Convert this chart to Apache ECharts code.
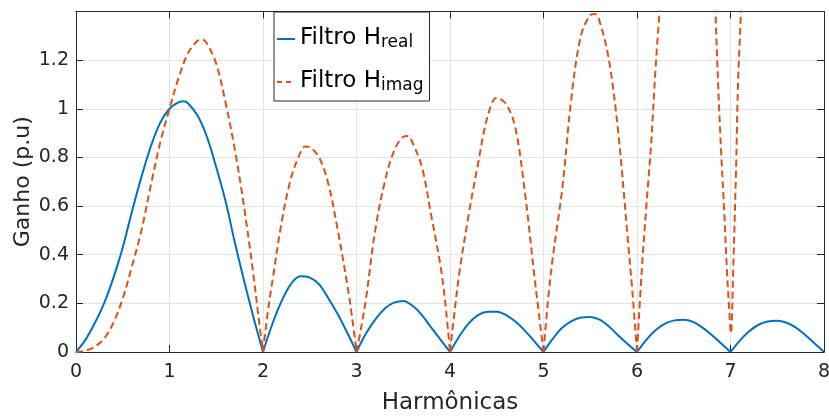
<!DOCTYPE html>
<html>
<head>
<meta charset="utf-8">
<script src="https://cdn.jsdelivr.net/npm/echarts@6/dist/echarts.min.js"></script>
<style>html,body{margin:0;padding:0;background:#fff}#c{width:829px;height:417px}</style>
</head>
<body>
<div id="c"></div>
<script>
// Harmonic order (x) and gain values
const realX = [0,0.1,0.2,0.3,0.4,0.5,0.6,0.7,0.8,0.9,1.0,1.1,1.15,1.2,1.3,1.4,1.5,1.6,1.7,1.8,1.9,2.0,
  2.1,2.2,2.3,2.4,2.5,2.6,2.7,2.8,2.9,3.0,3.1,3.2,3.3,3.4,3.5,3.6,3.7,3.8,3.9,4.0,
  4.1,4.2,4.3,4.4,4.5,4.6,4.7,4.8,4.9,5.0,5.1,5.2,5.3,5.4,5.5,5.6,5.7,5.8,5.9,6.0,
  6.1,6.2,6.3,6.4,6.5,6.6,6.7,6.8,6.9,7.0,7.1,7.2,7.3,7.4,7.5,7.6,7.7,7.8,7.9,8.0];
const realY = [0,0.05,0.118,0.2,0.305,0.43,0.58,0.72,0.845,0.942,1.0,1.027,1.031,1.022,0.972,0.885,0.76,0.62,0.448,0.29,0.14,0,
  0.115,0.21,0.28,0.311,0.306,0.278,0.22,0.155,0.08,0,0.075,0.133,0.178,0.203,0.21,0.19,0.152,0.1,0.05,0,
  0.065,0.118,0.152,0.165,0.166,0.152,0.125,0.088,0.045,0,0.055,0.1,0.127,0.142,0.144,0.133,0.105,0.068,0.033,0,
  0.05,0.09,0.117,0.13,0.133,0.124,0.1,0.07,0.035,0,0.047,0.085,0.112,0.125,0.128,0.12,0.1,0.07,0.035,0];

const imagX = [0,0.1,0.2,0.3,0.4,0.5,0.6,0.7,0.8,0.9,1.0,1.1,1.2,1.3,1.35,1.4,1.5,1.6,1.7,1.8,1.9,1.95,2.0,
  2.05,2.1,2.2,2.3,2.4,2.45,2.5,2.6,2.7,2.8,2.9,2.95,3.0,
  3.05,3.1,3.2,3.3,3.4,3.5,3.55,3.6,3.7,3.8,3.9,3.95,4.0,
  4.05,4.1,4.2,4.3,4.4,4.5,4.6,4.7,4.8,4.9,4.95,5.0,
  5.05,5.1,5.2,5.3,5.4,5.5,5.55,5.6,5.7,5.8,5.9,5.95,6.0,
  6.05,6.1,6.15,6.2,6.25,6.3,6.5,6.7,6.8,6.84,6.87,6.9,6.93,6.96,6.99,7.0,
  7.01,7.03,7.06,7.08,7.11,7.15,7.3,7.5,8.0];
const imagY = [0,0.005,0.022,0.055,0.12,0.22,0.355,0.5,0.685,0.86,1.0,1.13,1.23,1.28,1.285,1.268,1.185,1.025,0.83,0.59,0.31,0.15,0,
  0.16,0.29,0.535,0.715,0.82,0.845,0.842,0.8,0.69,0.5,0.28,0.15,0,
  0.1,0.215,0.5,0.695,0.825,0.885,0.888,0.86,0.76,0.56,0.35,0.2,0,
  0.17,0.325,0.565,0.775,0.965,1.045,1.02,0.92,0.66,0.32,0.16,0,
  0.22,0.39,0.67,1.05,1.3,1.385,1.39,1.36,1.2,0.9,0.47,0.25,0,
  0.33,0.6,0.85,1.175,1.45,1.72,2.3,2.6,2.0,1.40,1.08,0.82,0.6,0.35,0.145,0.085,
  0.09,0.35,0.76,1.1,1.385,1.9,3.5,4.5,4.0];

// Harmonic orders where the curves have sharp notches (lobes are drawn between them)
const notches = [0, 2, 3, 4, 5, 6, 7, 8];

const seriesNames = ['Filtro Hreal', 'Filtro Himag'];
const legendMain = 'Filtro H';
const legendSub = {'Filtro Hreal': 'real', 'Filtro Himag': 'imag'};
const xTitle = 'Harmônicas';
const yTitle = 'Ganho (p.u)';

const FONT = 'DejaVu Sans';
const INK = '#262626';
const BLUE = '#0072BD';
const ORANGE = '#D95319';

const chart = echarts.init(document.getElementById('c'), null, {renderer: 'canvas'});

// split a curve into lobes between consecutive notches (shared endpoints keep it continuous)
function lobes(xs, ys) {
  const out = [];
  for (let k = 0; k < notches.length - 1; k++) {
    const a = notches[k], b = notches[k + 1];
    const seg = [];
    xs.forEach((x, i) => { if (x >= a - 1e-9 && x <= b + 1e-9) seg.push([x, ys[i]]); });
    if (seg.length > 1) out.push(seg);
  }
  return out;
}

function lobeSeries(name, xs, ys, lineStyle) {
  return lobes(xs, ys).map(seg => ({
    name: name, type: 'line', xAxisIndex: 0, yAxisIndex: 0,
    data: seg, symbol: 'none', clip: true, smooth: 0.35,
    lineStyle: lineStyle, itemStyle: {color: lineStyle.color}
  }));
}

const baseAxis = {
  min: 0,
  axisLine: {show: true, onZero: false, lineStyle: {color: INK, width: 1}},
  axisTick: {show: true, inside: true, length: 7, lineStyle: {color: INK}},
};

chart.setOption({
  animation: false,
  backgroundColor: '#fff',
  grid: {left: 76, right: 5, top: 11.5, bottom: 65, containLabel: false, outerBoundsMode: 'none'},
  xAxis: [
    Object.assign({}, baseAxis, {
      type: 'value', max: 8, interval: 1, position: 'bottom',
      name: xTitle, nameLocation: 'middle', nameGap: 40,
      nameTextStyle: {fontFamily: FONT, fontSize: 23, color: INK},
      axisLabel: {fontFamily: FONT, fontSize: 19, color: INK, margin: 11},
      splitLine: {show: true, lineStyle: {color: '#e4e4e4', width: 1}}
    }),
    Object.assign({}, baseAxis, {
      type: 'value', max: 8, interval: 1, position: 'top',
      axisLabel: {show: false}, splitLine: {show: false}
    })
  ],
  yAxis: [
    Object.assign({}, baseAxis, {
      type: 'value', max: 1.4, interval: 0.2, position: 'left',
      name: yTitle, nameLocation: 'middle', nameGap: 42, nameRotate: 90, nameMoveOverlap: false,
      nameTextStyle: {fontFamily: FONT, fontSize: 22, color: INK},
      axisLabel: {fontFamily: FONT, fontSize: 19, color: INK, margin: 7,
        formatter: v => (v > 1.39 ? '' : String(Math.round(v * 10) / 10))},
      splitLine: {show: true, lineStyle: {color: '#e4e4e4', width: 1}}
    }),
    Object.assign({}, baseAxis, {
      type: 'value', max: 1.4, interval: 0.2, position: 'right',
      axisLabel: {show: false}, splitLine: {show: false}
    })
  ],
  legend: {
    orient: 'vertical',
    left: 274, top: 12,
    padding: [0, 6, 7, 2],
    itemGap: 4,
    itemWidth: 18, itemHeight: 14,
    backgroundColor: '#fff',
    borderColor: INK, borderWidth: 1, borderRadius: 0,
    itemStyle: {color: 'rgba(0,0,0,0)', borderColor: 'rgba(0,0,0,0)', borderWidth: 0, opacity: 0},
    data: [
      {name: seriesNames[0], lineStyle: {color: BLUE, width: 2, type: 'solid'}},
      {name: seriesNames[1], lineStyle: {color: ORANGE, width: 2, type: [5, 4]}}
    ],
    formatter: name => '{m|' + legendMain + '}{s|' + legendSub[name] + '}',
    textStyle: {
      rich: {
        m: {fontFamily: FONT, fontSize: 23, color: '#000', lineHeight: 24, verticalAlign: 'top'},
        s: {fontFamily: FONT, fontSize: 17, color: '#000', lineHeight: 17, padding: [22, 0, 0, 0], verticalAlign: 'bottom'}
      }
    }
  },
  series: [].concat(
    lobeSeries(seriesNames[0], realX, realY, {color: BLUE, width: 2}),
    lobeSeries(seriesNames[1], imagX, imagY, {color: ORANGE, width: 2, type: [7, 4]})
  )
});
</script>
</body>
</html>
